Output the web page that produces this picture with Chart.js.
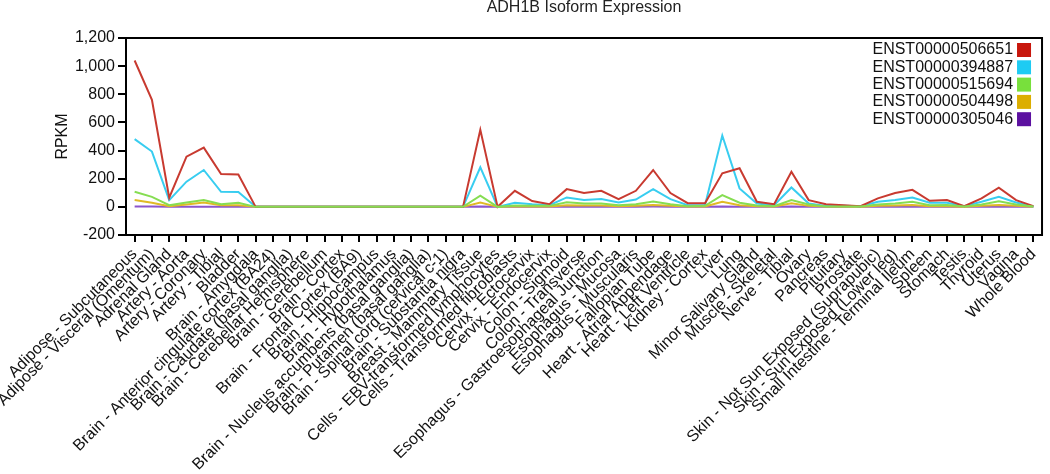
<!DOCTYPE html>
<html><head><meta charset="utf-8">
<script src="https://cdn.jsdelivr.net/npm/chart.js@4.4.1/dist/chart.umd.min.js"></script>
<style>html,body{margin:0;padding:0;background:#fff}</style>
</head><body>
<canvas id="c" width="1050" height="474"></canvas>
<script>
const chartTitle = "ADH1B Isoform Expression";
const yTitle = "RPKM";
const tissues = [
"Adipose - Subcutaneous","Adipose - Visceral (Omentum)","Adrenal Gland","Artery - Aorta","Artery - Coronary","Artery - Tibial","Bladder",
"Brain - Amygdala","Brain - Anterior cingulate cortex (BA24)","Brain - Caudate (basal ganglia)","Brain - Cerebellar Hemisphere","Brain - Cerebellum",
"Brain - Cortex","Brain - Frontal Cortex (BA9)","Brain - Hippocampus","Brain - Hypothalamus","Brain - Nucleus accumbens (basal ganglia)",
"Brain - Putamen (basal ganglia)","Brain - Spinal cord (cervical c-1)","Brain - Substantia nigra","Breast - Mammary Tissue",
"Cells - EBV-transformed lymphocytes","Cells - Transformed fibroblasts","Cervix - Ectocervix","Cervix - Endocervix","Colon - Sigmoid",
"Colon - Transverse","Esophagus - Gastroesophageal Junction","Esophagus - Mucosa","Esophagus - Muscularis","Fallopian Tube",
"Heart - Atrial Appendage","Heart - Left Ventricle","Kidney - Cortex","Liver","Lung","Minor Salivary Gland","Muscle - Skeletal",
"Nerve - Tibial","Ovary","Pancreas","Pituitary","Prostate","Skin - Not Sun Exposed (Suprapubic)","Skin - Sun Exposed (Lower leg)",
"Small Intestine - Terminal Ileum","Spleen","Stomach","Testis","Thyroid","Uterus","Vagina","Whole Blood"];

const seriesNames = ["ENST00000506651","ENST00000394887","ENST00000515694","ENST00000504498","ENST00000305046"];
const seriesColors = ["#c8160c","#1ecbf3","#78e03c","#dcae00","#5c10a0"];
const lineColors = ["#c83a30","#38cdf0","#86dd52","#e0ba26","#8c55cc"];

const s506651 = [1040,760,65,357,421,233,230, 0,0,0,0,0,0,0,0,0,0,0,0,0, 548,0, 114,41,19,126,98,114,55,114,262,98,26, 26,238,274,36,19,250,48,19,12,5,60,98,121,43,48,5,60,136,48,5];
const s394887 = [481,393,48,179,262,107,105, 0,0,0,0,0,0,0,0,0,0,0,0,0, 281,0, 29,19,12,67,48,55,31,52,126,55,12, 12,507,131,24,12,138,24,7,7,5,36,48,67,29,29,5,36,71,31,3];
const s515694 = [107,71,12,31,48,19,29, 0,0,0,0,0,0,0,0,0,0,0,0,0, 79,0, 10,7,7,33,24,24,12,19,38,19,5, 7,83,29,10,5,48,17,3,3,3,17,24,36,12,14,2,17,40,17,2];
const s504498 = [48,29,5,17,31,12,12, 0,0,0,0,0,0,0,0,0,0,0,0,0, 31,0, 5,3,3,12,10,10,5,7,14,7,2, 3,36,12,5,2,26,7,2,2,1,7,10,14,5,5,1,7,14,7,1];
const s305046 = [2,2,0,1,1,1,1, 0,0,0,0,0,0,0,0,0,0,0,0,0, 3,0, 1,0,0,1,1,1,0,1,2,1,0, 0,3,1,0,0,2,1,0,0,0,1,1,1,0,0,0,1,1,1,0];
const seriesValues = [s506651,s394887,s515694,s504498,s305046];
const drawOrder = [2,3,1,4,5];

const yMin = -200, yMax = 1200, yStep = 200;
const FONT = "'Liberation Sans', Arial, sans-serif";
const TXT = '#111';

const decor = {
  id:'decor',
  afterDraw(chart){
    const ctx = chart.ctx, a = chart.chartArea;
    ctx.save();
    ctx.strokeStyle = '#000'; ctx.lineWidth = 2;
    ctx.strokeRect(a.left, a.top, a.right - a.left, a.bottom - a.top);
    ctx.fillStyle = '#222';
    ctx.font = '16px ' + FONT;
    ctx.textAlign = 'center'; ctx.textBaseline = 'middle';
    ctx.fillText(chartTitle, (a.left + a.right)/2, 8);
    ctx.save();
    ctx.translate(63, (a.top + a.bottom)/2);
    ctx.rotate(-Math.PI/2);
    ctx.fillStyle = TXT;
    ctx.fillText(yTitle, 0, 0);
    ctx.restore();
    // legend
    ctx.textAlign = 'right'; ctx.textBaseline = 'middle';
    ctx.font = '16px ' + FONT;
    chart.data.datasets.forEach((ds, i) => {
      const cy = a.top + 12 + i*17.3;
      ctx.fillStyle = TXT;
      ctx.fillText(ds.label, a.right - 29, cy);
      ctx.fillStyle = seriesColors[i];
      ctx.fillRect(a.right - 25, cy - 7, 14, 14);
    });
    ctx.restore();
  }
};

new Chart(document.getElementById('c'), {
  type:'line',
  data:{
    labels: tissues,
    datasets: seriesNames.map((n,i)=>({
      label:n, data:seriesValues[i], borderColor:lineColors[i], backgroundColor:lineColors[i],
      borderWidth:2, pointRadius:0, tension:0, fill:false, order:drawOrder[i]
    }))
  },
  options:{
    responsive:false, animation:false,
    layout:{padding:{top:38,right:4,left:0,bottom:0}},
    plugins:{legend:{display:false}, title:{display:false}, tooltip:{enabled:false}},
    scales:{
      x:{
        type:'category', offset:true,
        grid:{display:true, drawOnChartArea:false, drawTicks:true, tickLength:7, color:'#000', lineWidth:2},
        border:{display:true, color:'#000', width:2},
        ticks:{autoSkip:false, maxRotation:45, minRotation:45, padding:3, color:TXT, font:{family:FONT, size:16}},
        afterFit(s){ s.height = 239; }
      },
      y:{
        min:yMin, max:yMax,
        grid:{display:true, drawOnChartArea:false, drawTicks:true, tickLength:8, color:'#000', lineWidth:2},
        border:{display:true, color:'#000', width:2},
        ticks:{stepSize:yStep, padding:3, color:TXT, font:{family:FONT, size:16},
          callback:(v)=>Number(v).toLocaleString('en-US')},
        afterFit(s){ s.width = 126; }
      }
    }
  },
  plugins:[decor]
});
</script>
</body></html>
